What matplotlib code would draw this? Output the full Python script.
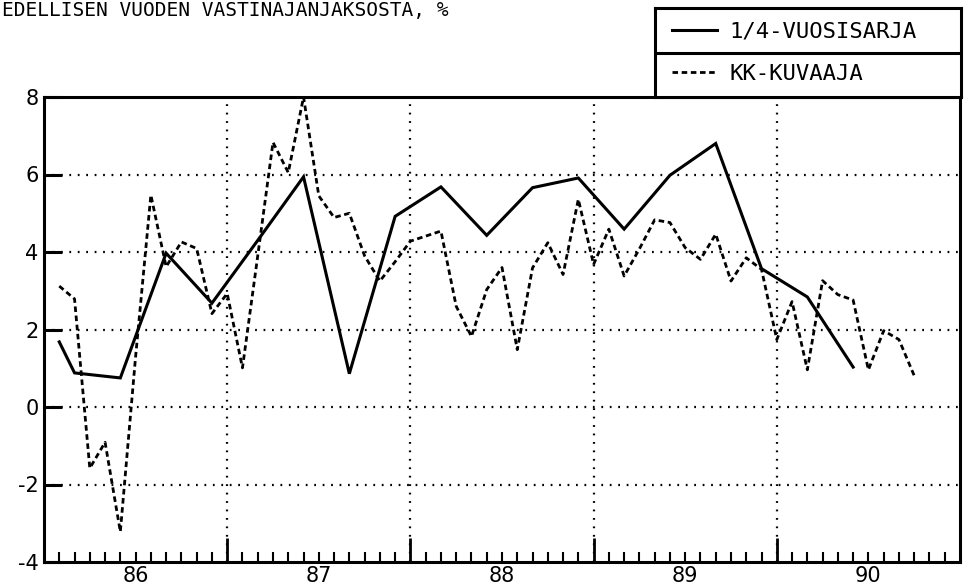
import matplotlib
matplotlib.use("Agg")
import matplotlib.pyplot as plt
from matplotlib.ticker import FuncFormatter, FixedLocator

plt.rcParams['axes.unicode_minus'] = False

# Months counted from the start of 1986 (Jan 1986 = 1).
kk_months = list(range(1, 58))
kk_values = [3.12, 2.79, -1.58, -0.91, -3.22, 1.3, 5.47, 3.62, 4.26, 4.09,
             2.41, 2.93, 1.01, 3.9, 6.83, 6.05, 8.0, 5.45, 4.89, 5.0,
             3.9, 3.25, 3.75, 4.28, 4.41, 4.54, 2.6, 1.82, 3.03, 3.6,
             1.48, 3.59, 4.24, 3.42, 5.36, 3.68, 4.59, 3.38, 4.08, 4.83,
             4.76, 4.11, 3.81, 4.46, 3.25, 3.85, 3.55, 1.74, 2.72, 0.96,
             3.26, 2.9, 2.76, 0.96, 1.97, 1.74, 0.81]

q_months = [1, 2, 5, 8, 11, 14, 17, 20, 23, 26, 29, 32, 35, 38, 41, 44, 47, 50, 53]
q_values = [1.68, 0.88, 0.75, 3.97, 2.68, 4.3, 5.94, 0.86, 4.92, 5.68,
            4.43, 5.66, 5.91, 4.59, 5.98, 6.80, 3.57, 2.84, 1.03]

years = [86, 87, 88, 89, 90]
y_ticks = [-4, -2, 0, 2, 4, 6, 8]
title = "EDELLISEN VUODEN VASTINAJANJAKSOSTA, %"
labels = ["1/4-VUOSISARJA", "KK-KUVAAJA"]

W, H = 968, 587
fig = plt.figure(figsize=(W / 100, H / 100), dpi=100)
ax = fig.add_axes([44 / W, 1 - 562 / H, (960 - 44) / W, (562 - 97) / H])

line_q, = ax.plot(q_months, q_values, color='black', lw=2.2,
                  solid_joinstyle='miter')
line_kk, = ax.plot(kk_months, kk_values, color='black', lw=2.0,
                   linestyle=(0, (2.0, 1.3)))

n_months = 12 * len(years)
ax.set_xlim(0, n_months)
ax.set_ylim(-4, 8)

# year boundaries: long ticks + dotted grid
bounds = list(range(12, n_months, 12))
ax.xaxis.set_major_locator(FixedLocator(bounds))
ax.xaxis.set_major_formatter(FuncFormatter(lambda x, p: ''))
months = [m for m in range(1, n_months) if m % 12 != 0]
ax.xaxis.set_minor_locator(FixedLocator(months))
ax.xaxis.set_minor_formatter(FuncFormatter(
    lambda x, p: str(years[int(x) // 12]) if int(x) % 12 == 6 else ''))
ax.tick_params(axis='x', which='major', direction='in', length=17, width=2)
ax.tick_params(axis='x', which='minor', direction='in', length=7, width=1.5,
               labelsize=15, pad=3)

ax.set_yticks(y_ticks)
ax.set_yticklabels([str(v) for v in y_ticks])
ax.tick_params(axis='y', direction='in', length=13, width=2.2, labelsize=15, pad=4)

grid_kw = dict(color='black', lw=1.6, linestyle=(0, (0.8, 3.0)))
for b in bounds:
    ax.axvline(b, **grid_kw)
for v in y_ticks[1:-1]:
    ax.axhline(v, **grid_kw)

for s in ax.spines.values():
    s.set_linewidth(2.2)

# title line
fig.text(2 / W, 1 - 16 / H, title, family='DejaVu Sans Mono', fontsize=14,
         ha='left', va='baseline')

# legend box sitting on top of the plot frame
lax = fig.add_axes([655 / W, 1 - 97 / H, (961 - 655) / W, (97 - 8) / H])
lax.set_xticks([])
lax.set_yticks([])
lax.set_facecolor('white')
for s in lax.spines.values():
    s.set_linewidth(2.2)
lax.axhline(0.5, color='black', lw=2.2)
leg = lax.legend([line_q, line_kk], labels, loc='center left',
                 bbox_to_anchor=(0, 0.5), frameon=False, borderaxespad=0,
                 borderpad=0.75, handlelength=2.05, handletextpad=0.55,
                 labelspacing=1.0, prop={'family': 'DejaVu Sans Mono', 'size': 16})

fig.savefig("out.png", dpi=100, facecolor='white')
